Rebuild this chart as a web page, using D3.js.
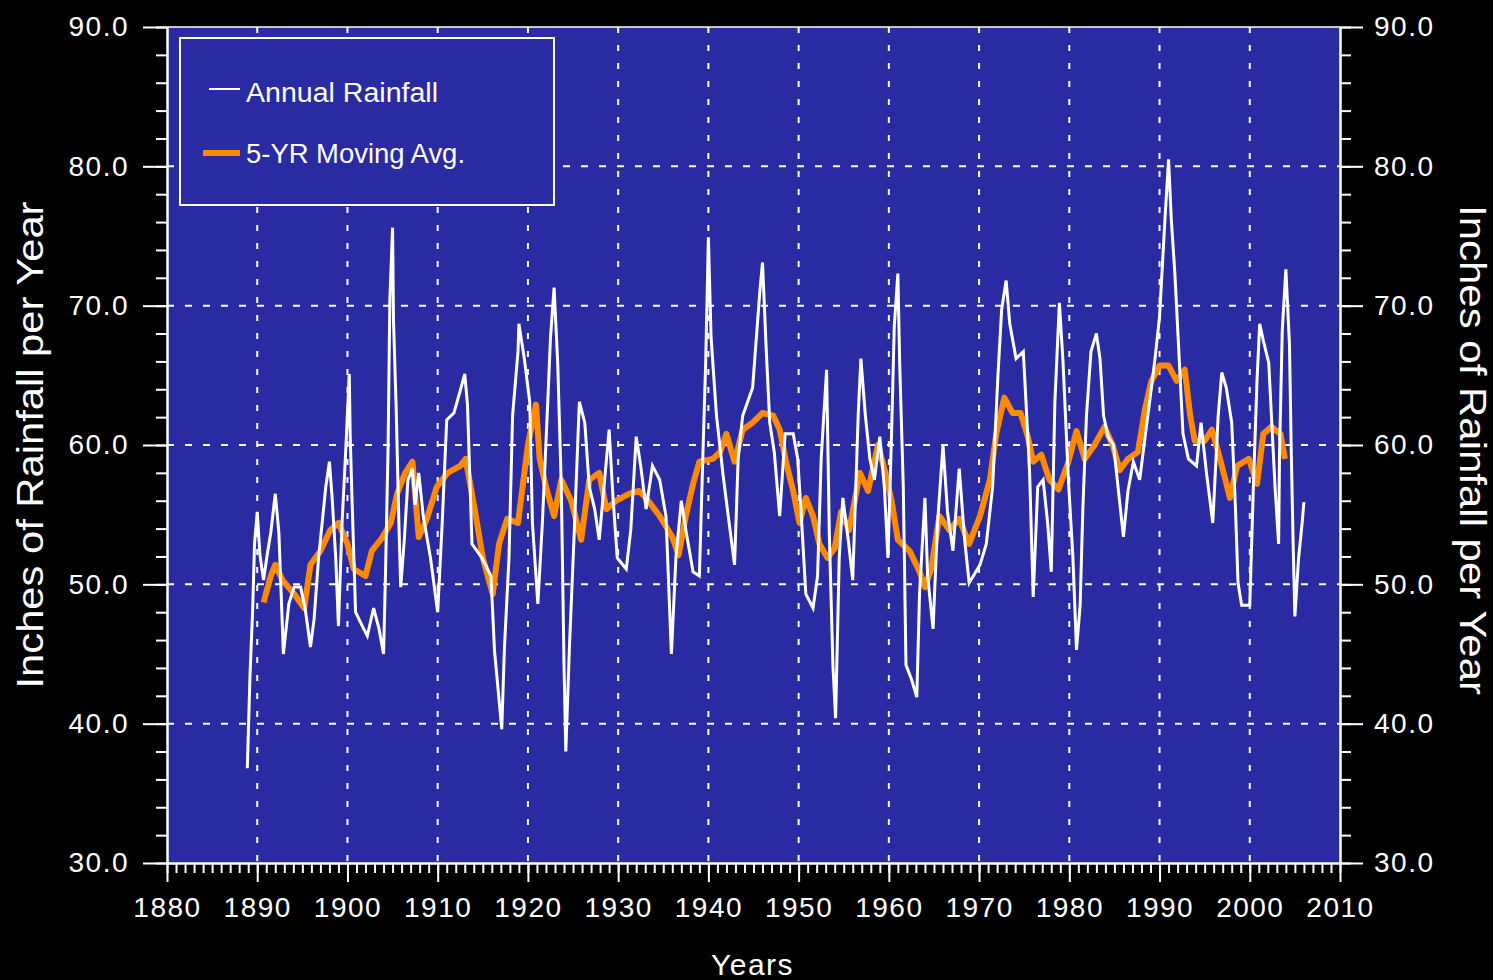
<!DOCTYPE html>
<html lang="en">

<head>
    <meta charset="utf-8">
    <!-- Load d3.js -->
    <script src="https://cdn.jsdelivr.net/npm/d3@7/dist/d3.min.js"></script>
    <style>
        html, body { margin: 0; padding: 0; background: #000; }
        svg { display: block; }
    </style>
</head>

<body>
    <div id="my_dataviz"></div>
</body>

<script>

    // annual rainfall (fractional years)
    const rainYears = [
        1888.9, 1889.2, 1889.5, 1889.7, 1890.0, 1890.3, 1890.7, 1891.1, 1891.5, 1892.0,
        1892.4, 1892.9, 1893.5, 1894.1, 1894.8, 1895.3, 1895.9, 1896.3, 1896.8, 1897.6,
        1898.0, 1898.3, 1898.7, 1899.0, 1899.4, 1899.8, 1900.2, 1900.3, 1900.5, 1900.9,
        1901.8, 1902.2, 1902.9, 1903.5, 1904.0, 1904.2, 1904.5, 1904.7, 1905.0, 1905.1,
        1905.4, 1905.7, 1905.9, 1906.3, 1906.7, 1907.2, 1907.5, 1907.9, 1908.4, 1909.2,
        1910.0, 1910.5, 1911.0, 1911.8, 1912.5, 1913.0, 1913.3, 1913.8, 1914.9, 1915.9,
        1916.3, 1916.8, 1917.1, 1917.4, 1917.9, 1918.3, 1918.9, 1919.0, 1919.6, 1920.2,
        1920.5, 1921.1, 1921.6, 1922.2, 1922.5, 1922.9, 1923.3, 1923.7, 1924.0, 1924.2,
        1924.6, 1925.1, 1925.7, 1926.3, 1926.8, 1927.4, 1927.9, 1928.5, 1929.0, 1929.4,
        1929.9, 1930.9, 1931.4, 1932.0, 1932.5, 1933.1, 1933.8, 1934.6, 1935.3, 1935.9,
        1936.4, 1937.0, 1937.5, 1938.3, 1939.0, 1939.4, 1939.7, 1940.0, 1940.3, 1940.9,
        1941.6, 1942.2, 1942.9, 1943.3, 1943.8, 1944.9, 1945.7, 1946.0, 1946.4, 1946.8,
        1947.3, 1947.9, 1948.5, 1949.4, 1949.9, 1950.3, 1950.8, 1951.6, 1952.1, 1952.5,
        1953.1, 1953.4, 1953.8, 1954.1, 1954.5, 1954.9, 1955.5, 1956.0, 1956.6, 1956.9,
        1957.4, 1957.9, 1958.4, 1959.0, 1959.5, 1959.9, 1960.3, 1960.6, 1961.0, 1961.2,
        1961.6, 1961.9, 1962.5, 1963.1, 1963.4, 1964.0, 1964.3, 1964.9, 1965.4, 1966.0,
        1966.5, 1967.1, 1967.8, 1968.4, 1968.9, 1970.1, 1970.8, 1971.5, 1972.1, 1972.5,
        1973.0, 1973.4, 1974.1, 1974.9, 1975.2, 1975.6, 1976.0, 1976.5, 1977.1, 1977.6,
        1978.0, 1978.4, 1978.9, 1979.3, 1979.9, 1980.4, 1980.8, 1981.2, 1981.5, 1981.9,
        1982.4, 1983.0, 1983.4, 1983.8, 1984.3, 1984.9, 1985.4, 1986.0, 1986.5, 1987.1,
        1987.8, 1988.4, 1988.9, 1989.5, 1990.0, 1990.6, 1991.0, 1991.3, 1991.7, 1992.1,
        1992.6, 1993.2, 1994.1, 1994.6, 1995.2, 1995.9, 1996.5, 1996.9, 1997.4, 1998.0,
        1998.4, 1998.7, 1999.1, 2000.0, 2000.4, 2000.8, 2001.1, 2001.5, 2002.1, 2002.4,
        2002.8, 2003.2, 2003.3, 2003.6, 2004.0, 2004.4, 2004.6, 2004.8, 2005.0, 2005.4,
        2005.8, 2006.0
    ];
    const rainValues = [
        36.8, 43.5, 48.3, 52.9, 55.2, 52.1, 50.3, 52.1, 53.7, 56.5,
        53.7, 45.0, 48.6, 49.8, 49.8, 48.3, 45.5, 47.5, 51.9, 57.0,
        58.8, 56.2, 51.9, 47.0, 54.4, 59.5, 65.1, 60.8, 56.2, 48.0,
        46.8, 46.3, 48.3, 46.8, 45.0, 50.3, 59.8, 70.5, 75.6, 69.0,
        62.6, 54.4, 49.8, 53.2, 57.5, 58.3, 55.7, 58.0, 54.9, 51.9,
        48.0, 54.4, 61.8, 62.3, 63.9, 65.1, 62.9, 52.9, 51.9, 50.6,
        45.2, 41.7, 39.6, 45.5, 51.9, 62.1, 66.7, 68.7, 66.2, 63.1,
        54.4, 48.6, 54.4, 63.1, 67.7, 71.3, 65.9, 57.0, 44.2, 38.0,
        45.5, 53.2, 63.1, 61.6, 57.0, 55.4, 53.2, 57.5, 61.1, 56.5,
        51.9, 51.1, 53.9, 60.6, 58.5, 55.4, 58.5, 57.5, 54.9, 45.0,
        51.9, 56.0, 53.9, 50.9, 50.6, 59.5, 65.9, 74.9, 67.7, 62.1,
        58.0, 54.9, 51.4, 59.0, 62.1, 64.1, 71.0, 73.1, 67.0, 61.6,
        59.5, 54.9, 60.8, 60.8, 59.0, 54.9, 49.3, 48.3, 50.6, 59.0,
        65.4, 53.7, 44.2, 40.4, 51.9, 56.2, 53.2, 50.3, 62.1, 66.2,
        62.1, 59.0, 57.5, 60.6, 57.0, 51.9, 60.8, 68.5, 72.3, 65.9,
        57.0, 44.2, 43.2, 41.9, 49.3, 56.2, 50.6, 46.8, 54.4, 60.0,
        55.2, 52.4, 58.3, 53.2, 50.1, 51.4, 52.9, 57.0, 65.1, 69.7,
        71.8, 68.7, 66.2, 66.7, 63.1, 58.0, 49.1, 57.0, 57.5, 54.4,
        50.9, 63.1, 70.2, 66.0, 57.5, 51.9, 45.3, 48.5, 55.4, 62.1,
        66.7, 68.0, 66.2, 62.1, 60.6, 60.0, 57.0, 53.4, 56.7, 58.8,
        57.5, 60.6, 63.1, 66.2, 69.2, 76.2, 80.5, 76.2, 72.3, 67.2,
        60.8, 59.0, 58.5, 61.6, 58.0, 54.4, 62.1, 65.2, 64.1, 61.6,
        55.7, 50.1, 48.5, 48.5, 57.0, 64.6, 68.7, 67.5, 65.9, 62.1,
        57.0, 52.9, 59.5, 68.2, 72.6, 67.2, 59.5, 53.1, 47.7, 51.8,
        54.4, 55.9
    ];

    // 5-year moving average
    const avgYears = [
        1890.7, 1891.5, 1892.0, 1892.8, 1894.1, 1895.2, 1895.9, 1897.0, 1898.1, 1899.0,
        1900.0, 1900.7, 1902.0, 1902.7, 1903.8, 1904.8, 1905.5, 1906.4, 1907.2, 1907.9,
        1908.8, 1909.9, 1911.1, 1912.5, 1913.1, 1914.1, 1915.0, 1916.1, 1916.8, 1917.7,
        1918.9, 1920.0, 1920.9, 1921.3, 1922.0, 1922.9, 1923.7, 1924.8, 1925.9, 1926.8,
        1927.9, 1928.7, 1929.8, 1931.2, 1932.3, 1933.1, 1934.6, 1936.0, 1936.7, 1937.5,
        1938.3, 1939.0, 1940.5, 1941.3, 1942.0, 1942.9, 1943.8, 1944.9, 1946.0, 1947.2,
        1947.9, 1948.6, 1949.4, 1950.1, 1950.8, 1951.6, 1952.3, 1953.2, 1954.0, 1954.7,
        1955.6, 1956.8, 1957.7, 1958.8, 1959.5, 1960.3, 1961.0, 1962.3, 1963.4, 1964.0,
        1964.7, 1965.6, 1966.7, 1967.8, 1968.9, 1970.1, 1971.2, 1971.9, 1972.8, 1973.7,
        1974.6, 1975.4, 1976.0, 1976.9, 1977.8, 1978.8, 1979.9, 1980.8, 1981.7, 1982.8,
        1983.9, 1984.8, 1985.6, 1986.5, 1987.6, 1988.4, 1989.1, 1990.0, 1991.0, 1991.9,
        1992.8, 1993.4, 1993.9, 1995.0, 1995.8, 1996.5, 1997.3, 1997.8, 1998.6, 1999.9,
        2000.8, 2001.5, 2002.4, 2003.4, 2003.9
    ];
    const avgValues = [
        48.7, 50.6, 51.4, 50.3, 49.3, 48.3, 51.4, 52.4, 53.9, 54.4,
        52.9, 51.1, 50.6, 52.4, 53.3, 54.4, 56.5, 58.0, 58.8, 53.4,
        54.7, 57.0, 58.0, 58.5, 59.0, 55.4, 51.9, 49.3, 52.9, 54.7,
        54.4, 60.0, 62.9, 59.0, 57.0, 54.9, 57.5, 56.0, 53.2, 57.5,
        58.0, 55.4, 56.0, 56.5, 56.7, 56.2, 54.9, 53.4, 52.1, 54.9,
        57.2, 58.8, 59.0, 59.5, 60.8, 58.8, 61.1, 61.6, 62.3, 62.1,
        61.1, 58.8, 56.7, 54.4, 56.2, 54.9, 52.9, 51.9, 52.6, 55.2,
        53.9, 58.0, 56.7, 60.0, 58.3, 56.0, 53.2, 52.4, 50.9, 49.8,
        51.1, 54.9, 53.9, 54.7, 52.9, 54.9, 57.5, 60.8, 63.4, 62.3,
        62.3, 60.6, 58.8, 59.3, 57.5, 56.8, 58.8, 61.0, 59.0, 60.0,
        61.3, 60.0, 58.2, 59.0, 59.5, 62.6, 64.6, 65.7, 65.7, 64.6,
        65.4, 62.1, 60.3, 60.3, 61.1, 59.5, 57.5, 56.2, 58.5, 59.0,
        57.2, 60.8, 61.3, 60.8, 59.0
    ];

    // axis ticks
    const yearTicks = d3.range(1880, 2011, 10);
    const yearMinor = d3.range(1880, 2011, 1);
    const valueTicks = [30, 40, 50, 60, 70, 80, 90];
    const valueMinor = d3.range(30, 91, 2);
    const gridYears = d3.range(1890, 2001, 10);
    const gridValues = [40, 50, 60, 70, 80];

    const legendLabels = ["Annual Rainfall", "5-YR Moving Avg."];

    const rain = rainYears.map((d, i) => ({ year: d, value: rainValues[i] }));
    const avg = avgYears.map((d, i) => ({ year: d, value: avgValues[i] }));

    const totalWidth = 1493,
        totalHeight = 980;
    const margin = { top: 27, right: 153, bottom: 117, left: 167 },
        width = totalWidth - margin.left - margin.right,
        height = totalHeight - margin.top - margin.bottom;

    const fontFamily = "'Liberation Sans', Arial, sans-serif";
    const orange = "#ff8a00";
    const blue = "#2a2aa2";

    const svg = d3.select("#my_dataviz")
        .append("svg")
        .attr("width", totalWidth)
        .attr("height", totalHeight)
        .style("background", "#000");

    const g = svg.append("g")
        .attr("transform", `translate(${margin.left},${margin.top})`);

    const x = d3.scaleLinear().domain([1880, 2010]).range([0, width]);
    const y = d3.scaleLinear().domain([30, 90]).range([height, 0]);

    // plot area
    g.append("rect")
        .attr("x", 0)
        .attr("y", 0)
        .attr("width", width)
        .attr("height", height)
        .attr("fill", blue);

    // dotted grid
    g.selectAll(".vgrid")
        .data(gridYears)
        .enter()
        .append("line")
        .attr("x1", d => x(d))
        .attr("x2", d => x(d))
        .attr("y1", 0)
        .attr("y2", height)
        .attr("stroke", "#fff")
        .attr("stroke-width", 2)
        .attr("stroke-dasharray", "6,12");

    g.selectAll(".hgrid")
        .data(gridValues)
        .enter()
        .append("line")
        .attr("x1", 0)
        .attr("x2", width)
        .attr("y1", d => y(d))
        .attr("y2", d => y(d))
        .attr("stroke", "#fff")
        .attr("stroke-width", 2)
        .attr("stroke-dasharray", "7,11");

    // top border
    g.append("line")
        .attr("x1", 0).attr("x2", width)
        .attr("y1", 0).attr("y2", 0)
        .attr("stroke", "#fff")
        .attr("stroke-width", 1.5);

    // lines
    const line = d3.line()
        .x(d => x(d.year))
        .y(d => y(d.value));

    g.append("path")
        .datum(avg)
        .attr("fill", "none")
        .attr("stroke", orange)
        .attr("stroke-width", 6)
        .attr("stroke-linejoin", "round")
        .attr("d", line);

    g.append("path")
        .datum(rain)
        .attr("fill", "none")
        .attr("stroke", "#fff")
        .attr("stroke-width", 3)
        .attr("d", line);

    // axes
    function styleAxis(sel) {
        sel.selectAll("path, line").attr("stroke", "#fff").attr("stroke-width", 2);
        sel.selectAll("text")
            .attr("fill", "#fff")
            .style("font-family", fontFamily)
            .style("font-size", "28px")
            .style("letter-spacing", "1.5px");
    }

    g.append("g")
        .attr("transform", `translate(0, ${height})`)
        .call(d3.axisBottom(x).tickValues(yearMinor).tickSize(10).tickFormat("").tickSizeOuter(0))
        .call(styleAxis);

    g.append("g")
        .attr("transform", `translate(0, ${height})`)
        .call(d3.axisBottom(x).tickValues(yearTicks).tickSize(19).tickPadding(15).tickFormat(d3.format("d")).tickSizeOuter(0))
        .call(styleAxis);

    g.append("g")
        .call(d3.axisLeft(y).tickValues(valueMinor).tickSize(11).tickFormat("").tickSizeOuter(0))
        .call(styleAxis);

    g.append("g")
        .call(d3.axisLeft(y).tickValues(valueTicks).tickSize(24).tickPadding(14).tickFormat(d3.format(".1f")).tickSizeOuter(0))
        .call(styleAxis);

    g.append("g")
        .attr("transform", `translate(${width}, 0)`)
        .call(d3.axisRight(y).tickValues(valueMinor).tickSize(11).tickFormat("").tickSizeOuter(0))
        .call(styleAxis);

    g.append("g")
        .attr("transform", `translate(${width}, 0)`)
        .call(d3.axisRight(y).tickValues(valueTicks).tickSize(23).tickPadding(11).tickFormat(d3.format(".1f")).tickSizeOuter(0))
        .call(styleAxis);

    // axis titles
    svg.append("text")
        .attr("transform", `translate(43, ${margin.top + height / 2}) rotate(-90)`)
        .attr("text-anchor", "middle")
        .attr("fill", "#fff")
        .attr("textLength", 487)
        .attr("lengthAdjust", "spacingAndGlyphs")
        .style("font-family", fontFamily)
        .style("font-size", "36px")
        .text("Inches of Rainfall per Year");

    svg.append("text")
        .attr("transform", `translate(1460, ${margin.top + height / 2 + 5}) rotate(90)`)
        .attr("text-anchor", "middle")
        .attr("fill", "#fff")
        .attr("textLength", 490)
        .attr("lengthAdjust", "spacingAndGlyphs")
        .style("font-family", fontFamily)
        .style("font-size", "36px")
        .text("Inches of Rainfall per Year");

    svg.append("text")
        .attr("x", margin.left + width / 2 - 1)
        .attr("y", 975)
        .attr("text-anchor", "middle")
        .attr("fill", "#fff")
        .style("font-family", fontFamily)
        .style("font-size", "30px")
        .style("letter-spacing", "1.5px")
        .text("Years");

    // legend
    const legend = svg.append("g");

    legend.append("rect")
        .attr("x", 180)
        .attr("y", 38)
        .attr("width", 374)
        .attr("height", 167)
        .attr("fill", blue)
        .attr("stroke", "#fff")
        .attr("stroke-width", 2);

    legend.append("line")
        .attr("x1", 209).attr("x2", 240)
        .attr("y1", 89).attr("y2", 89)
        .attr("stroke", "#fff")
        .attr("stroke-width", 2);

    legend.append("line")
        .attr("x1", 203).attr("x2", 240)
        .attr("y1", 153).attr("y2", 153)
        .attr("stroke", orange)
        .attr("stroke-width", 6);

    legend.append("text")
        .attr("x", 246)
        .attr("y", 102)
        .attr("fill", "#fff")
        .attr("textLength", 192)
        .attr("lengthAdjust", "spacingAndGlyphs")
        .style("font-family", fontFamily)
        .style("font-size", "27px")
        .text(legendLabels[0]);

    legend.append("text")
        .attr("x", 246)
        .attr("y", 163)
        .attr("fill", "#fff")
        .attr("textLength", 219)
        .attr("lengthAdjust", "spacingAndGlyphs")
        .style("font-family", fontFamily)
        .style("font-size", "27px")
        .text(legendLabels[1]);

</script>

</html>
